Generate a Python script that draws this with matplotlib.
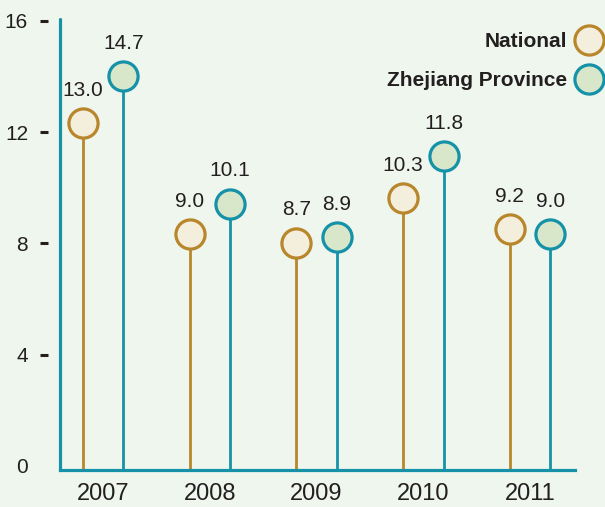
import matplotlib
matplotlib.use("Agg")
import matplotlib.pyplot as plt
from matplotlib.lines import Line2D
import numpy as np

years = ["2007", "2008", "2009", "2010", "2011"]
national = [13.0, 9.0, 8.7, 10.3, 9.2]
zhejiang = [14.7, 10.1, 8.9, 11.8, 9.0]
ytick_vals = [4, 8, 12, 16]

bg = "#eff6ee"
nat_edge, nat_face = "#b8862b", "#f4eedd"
zj_edge, zj_face = "#1692a8", "#d8e6c9"
txt = "#231f20"

plt.rcParams["font.family"] = ["Liberation Sans", "DejaVu Sans"]

fig = plt.figure(figsize=(6.05, 5.07), dpi=100, facecolor=bg)
ax = fig.add_axes([60/605, 37/507, 515/605, 451/507])
ax.set_facecolor(bg)

x = np.arange(len(years))
off = 0.19
ymin, ymax = 0.52, 16.74
shift = 0.67  # circles sit a bit below the printed scale in the original

for xs, vals, ec, fc in [(x - off, national, nat_edge, nat_face),
                         (x + off, zhejiang, zj_edge, zj_face)]:
    ax.vlines(xs, ymin, vals, color=ec, lw=2, zorder=2)
    ax.plot(xs, vals, ls="none", marker="o", ms=21, mfc=fc, mec=ec, mew=2.3,
            zorder=3, clip_on=False)
    for xi, v in zip(xs, vals):
        ax.annotate(f"{v:.1f}", (xi, v), xytext=(0, 23.5), textcoords="offset points",
                    ha="center", va="center", fontsize=15, color=txt)

ax.set_xlim(-0.403, 4.42)
ax.set_ylim(ymin, ymax)

ax.set_xticks(x)
ax.set_xticklabels(years)
ax.tick_params(axis="x", length=0, pad=9, labelsize=17, labelcolor=txt)

ax.set_yticks([t + shift for t in ytick_vals])
ax.set_yticklabels([str(t) for t in ytick_vals])
ax.tick_params(axis="y", length=6, width=2.2, color=txt, pad=8,
               labelsize=15, labelcolor=txt)
# "0" has a label but no tick mark
ax.set_yticks([0 + shift], ["0"], minor=True)
ax.tick_params(axis="y", which="minor", length=0, pad=14,
               labelsize=15, labelcolor=txt)

for s in ["top", "right"]:
    ax.spines[s].set_visible(False)
ax.spines["left"].set_position(("outward", 9))
ax.spines["left"].set_visible(False)
ax.spines["bottom"].set_color(zj_edge)
ax.spines["bottom"].set_linewidth(2.3)
ax.plot([0, 0], [0, 1], transform=ax.transAxes, color=zj_edge, lw=2.3,
        clip_on=False, solid_capstyle="round", zorder=4)

handles = [Line2D([], [], ls="none", marker="o", ms=21, mfc=nat_face, mec=nat_edge, mew=2.3),
           Line2D([], [], ls="none", marker="o", ms=21, mfc=zj_face, mec=zj_edge, mew=2.3)]
leg = ax.legend(handles, ["National", "Zhejiang Province"], markerfirst=False,
                frameon=False, loc="upper right", bbox_to_anchor=(604/605, 1 - 32/507),
                bbox_transform=fig.transFigure, borderaxespad=0, borderpad=0,
                handlelength=1.4, handletextpad=0.35, labelspacing=0.95,
                prop={"size": 15, "weight": "bold"})
for t in leg.get_texts():
    t.set_color(txt)

fig.savefig("out.png", dpi=100, facecolor=bg)
